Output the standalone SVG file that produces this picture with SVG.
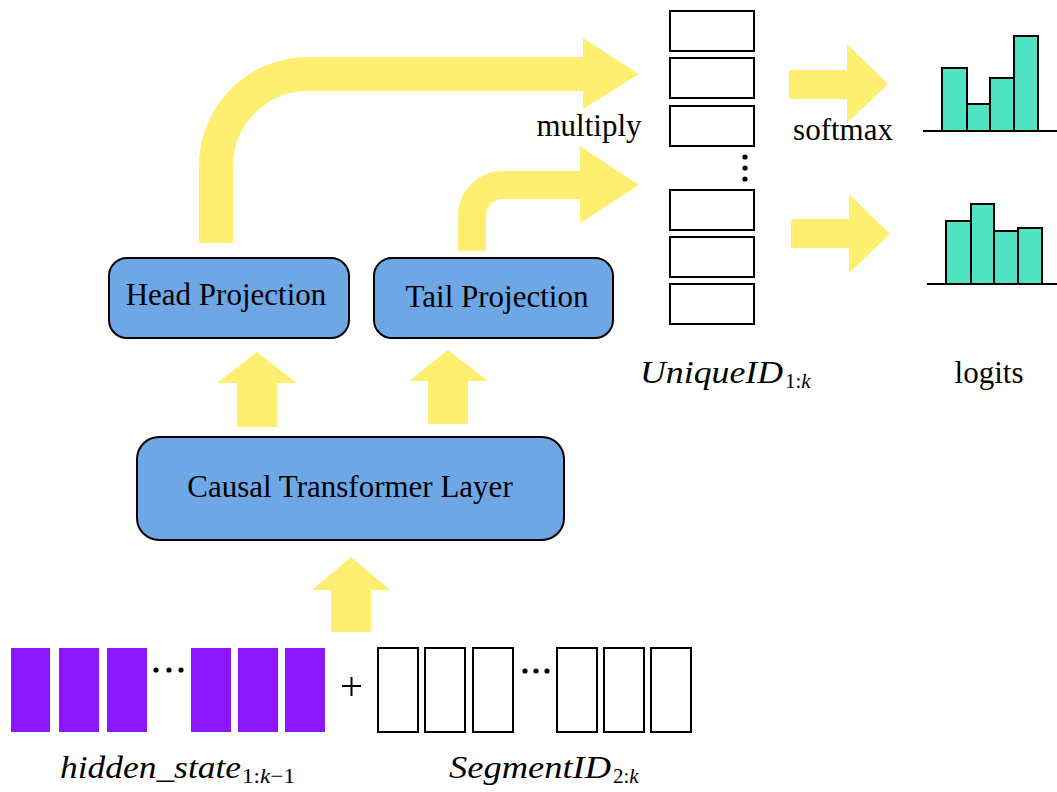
<svg xmlns="http://www.w3.org/2000/svg" width="1057" height="792" viewBox="0 0 1057 792">
<style>
.node{fill:#6DA7E6;stroke:#000;stroke-width:2}
.lbl{font-family:"Liberation Serif","Times New Roman",serif;font-size:31px;fill:#000}
.math{font-family:"Liberation Serif","Times New Roman",serif;font-style:italic;font-size:31px;fill:#000}
.sub{font-family:"Liberation Serif","Times New Roman",serif;font-size:21px;fill:#000}
.subi{font-style:italic}
.ybar{fill:none;stroke:#FFEF70}
.yfill{fill:#FFEF70}
.box{fill:#fff;stroke:#000;stroke-width:2}
.bar{fill:#50E3C2;stroke:#000;stroke-width:2}
.axis{stroke:#000;stroke-width:2}
.purple{fill:#8C16FF}
</style>
<rect width="1057" height="792" fill="#fff"/>
<g id="connectors">
  <path class="ybar" stroke-width="34" d="M216,243 V166 A92,92 0 0 1 308,74 H585"/>
  <polygon class="yfill" points="583,38 639,74 583,109"/>
  <path class="ybar" stroke-width="28" d="M472,251 V216 A31,31 0 0 1 503,185 H582"/>
  <polygon class="yfill" points="580,146 639,185 580,223"/>
  <polygon class="yfill" points="237,427 237,383 217,383 257,352 297,383 277,383 277,427"/>
  <polygon class="yfill" points="428,424 428,381 409,381 448,350 488,381 468,381 468,424"/>
  <polygon class="yfill" points="331,632 331,590 312,590 351,557 390,590 371,590 371,632"/>
  <polygon class="yfill" points="789,70 847,70 847,44 888,84 847,123 847,99 789,99"/>
  <polygon class="yfill" points="791,219 849,219 849,194 890,234 849,273 849,248 791,248"/>
</g>
<g id="head-projection">
  <rect class="node" x="109" y="258" width="240" height="80" rx="18"/>
  <text class="lbl" x="226" y="305" text-anchor="middle">Head Projection</text>
</g>
<g id="tail-projection">
  <rect class="node" x="374" y="258" width="239" height="80" rx="18"/>
  <text class="lbl" x="497" y="307" text-anchor="middle">Tail Projection</text>
</g>
<g id="causal-transformer">
  <rect class="node" x="137" y="437" width="427" height="103" rx="22"/>
  <text class="lbl" x="350" y="497" text-anchor="middle">Causal Transformer Layer</text>
</g>
<g id="multiply-label">
  <text class="lbl" x="589" y="136" text-anchor="middle">multiply</text>
</g>
<g id="unique-ids">
  <rect class="box" x="670" y="11" width="84" height="40"/>
  <rect class="box" x="670" y="58" width="84" height="40"/>
  <rect class="box" x="670" y="106" width="84" height="40"/>
  <circle cx="745" cy="157" r="2.6"/>
  <circle cx="745" cy="168" r="2.6"/>
  <circle cx="745" cy="179" r="2.6"/>
  <rect class="box" x="670" y="190" width="84" height="40"/>
  <rect class="box" x="670" y="237" width="84" height="40"/>
  <rect class="box" x="670" y="284" width="84" height="40"/>
  <text class="math" x="640" y="383" textLength="143" lengthAdjust="spacingAndGlyphs">UniqueID</text>
  <text class="sub" x="785" y="388">1:<tspan class="subi">k</tspan></text>
</g>
<g id="softmax-label">
  <text class="lbl" x="843" y="140" text-anchor="middle">softmax</text>
</g>
<g id="chart-top">
  <rect class="bar" x="942" y="68" width="25" height="63"/>
  <rect class="bar" x="967" y="104" width="23" height="27"/>
  <rect class="bar" x="990" y="78" width="24" height="53"/>
  <rect class="bar" x="1014" y="36" width="24" height="95"/>
  <line class="axis" x1="923" y1="131" x2="1057" y2="131"/>
</g>
<g id="chart-bottom">
  <rect class="bar" x="946" y="221" width="25" height="63"/>
  <rect class="bar" x="971" y="204" width="23" height="80"/>
  <rect class="bar" x="994" y="231" width="24" height="53"/>
  <rect class="bar" x="1018" y="228" width="24" height="56"/>
  <line class="axis" x1="927" y1="284" x2="1057" y2="284"/>
</g>
<g id="logits-label">
  <text class="lbl" x="989" y="383" text-anchor="middle">logits</text>
</g>
<g id="hidden-states">
  <rect class="purple" x="11" y="648" width="39" height="84"/>
  <rect class="purple" x="59" y="648" width="40" height="84"/>
  <rect class="purple" x="107" y="648" width="40" height="84"/>
  <circle cx="156" cy="670" r="2.6"/>
  <circle cx="169" cy="670" r="2.6"/>
  <circle cx="181" cy="670" r="2.6"/>
  <rect class="purple" x="191" y="648" width="40" height="84"/>
  <rect class="purple" x="238" y="648" width="40" height="84"/>
  <rect class="purple" x="285" y="648" width="40" height="84"/>
  <text class="math" x="60" y="778" textLength="181" lengthAdjust="spacingAndGlyphs">hidden_state</text>
  <text class="sub" x="242" y="783" textLength="53" lengthAdjust="spacingAndGlyphs">1:<tspan class="subi">k</tspan>−1</text>
</g>
<g id="plus">
  <line class="axis" x1="342" y1="686" x2="361" y2="686" stroke-width="1.5"/>
  <line class="axis" x1="351.5" y1="677" x2="351.5" y2="696" stroke-width="1.5"/>
</g>
<g id="segment-ids">
  <rect class="box" x="378" y="648" width="40" height="84"/>
  <rect class="box" x="425" y="648" width="40" height="84"/>
  <rect class="box" x="473" y="648" width="40" height="84"/>
  <circle cx="525" cy="671" r="2.6"/>
  <circle cx="536" cy="671" r="2.6"/>
  <circle cx="547" cy="671" r="2.6"/>
  <rect class="box" x="557" y="648" width="40" height="84"/>
  <rect class="box" x="604" y="648" width="40" height="84"/>
  <rect class="box" x="651" y="648" width="40" height="84"/>
  <text class="math" x="449" y="778" textLength="162" lengthAdjust="spacingAndGlyphs">SegmentID</text>
  <text class="sub" x="613" y="783">2:<tspan class="subi">k</tspan></text>
</g>
</svg>
